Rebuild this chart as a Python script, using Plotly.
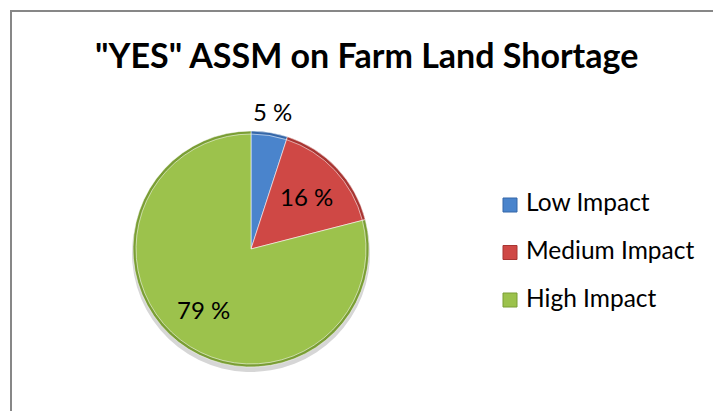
import math
import plotly.graph_objects as go

# Survey answers: impact of ASSM on farm land shortage (share of "YES" replies, %)
categories = ["Low Impact", "Medium Impact", "High Impact"]
shares = [5, 16, 79]
label_inside = [False, True, True]

face_colors = ["#4a84cc", "#cf4845", "#9cc24c"]
edge_colors = ["#3567a8", "#a83532", "#7a9e34"]

W, H = 713, 411
FONT = "Lato, Calibri, Arial, sans-serif"

# pie geometry in pixels (centre and radius)
cx, cy, r_out = 251, 249, 118
r_in = r_out - 3


def dom(cx_px, cy_px, r_px):
    return dict(
        x=[(cx_px - r_px) / W, (cx_px + r_px) / W],
        y=[(H - cy_px - r_px) / H, (H - cy_px + r_px) / H],
    )


common = dict(
    values=shares,
    labels=categories,
    sort=False,
    direction="clockwise",
    rotation=0,
    showlegend=False,
    hoverinfo="skip",
    textinfo="none",
)

fig = go.Figure()

# soft drop shadow below the pie
fig.add_trace(go.Pie(
    **common,
    domain=dom(cx, cy + 4, r_out + 1),
    marker=dict(colors=["rgba(0,0,0,0.16)"] * len(shares), line=dict(width=0)),
))

# darker rim for the bevelled look
fig.add_trace(go.Pie(
    **common,
    domain=dom(cx, cy, r_out),
    marker=dict(colors=edge_colors, line=dict(color="rgba(255,255,255,0.5)", width=1)),
))

# main face
fig.add_trace(go.Pie(
    **common,
    domain=dom(cx, cy, r_in),
    marker=dict(colors=face_colors, line=dict(color="rgba(255,255,255,0.55)", width=1)),
))

shapes = [dict(
    type="rect", xref="paper", yref="paper",
    x0=11 / W, x1=1.02, y0=-0.02, y1=(H - 11) / H,
    line=dict(color="#878787", width=2), fillcolor="rgba(0,0,0,0)", layer="below",
)]
annotations = [dict(
    text='<b>"YES" ASSM on Farm Land Shortage</b>',
    x=366 / W, y=(H - 55) / H, xref="paper", yref="paper",
    xanchor="center", yanchor="middle", showarrow=False,
    font=dict(family=FONT, size=34, color="#000000"),
)]

# percentage labels placed at each slice's mid-angle
total = sum(shares)
cum = 0
for v, inside in zip(shares, label_inside):
    ang = math.radians((cum + v / 2) / total * 360)
    cum += v
    dist = 0.65 * r_out if inside else r_out + 21
    lx = cx + dist * math.sin(ang)
    ly = cy - dist * math.cos(ang)
    annotations.append(dict(
        text=f"{v} %", x=lx / W, y=(H - ly) / H, xref="paper", yref="paper",
        xanchor="center", yanchor="middle", showarrow=False,
        font=dict(family=FONT, size=24, color="#000000"),
    ))

# legend drawn as swatches plus labels
row_y = [205, 252.5, 300]
for name, face, edge, yy in zip(categories, face_colors, edge_colors, row_y):
    shapes.append(dict(
        type="rect", xref="paper", yref="paper",
        x0=503 / W, x1=517 / W, y0=(H - yy - 7) / H, y1=(H - yy + 7) / H,
        fillcolor=face, line=dict(color=edge, width=1),
    ))
    annotations.append(dict(
        text=name, x=524 / W, y=(H - yy + 3) / H, xref="paper", yref="paper",
        xanchor="left", yanchor="middle", showarrow=False,
        font=dict(family=FONT, size=24.5, color="#000000"),
    ))

fig.update_layout(
    width=W, height=H,
    margin=dict(l=0, r=0, t=0, b=0),
    paper_bgcolor="#ffffff",
    plot_bgcolor="#ffffff",
    shapes=shapes,
    annotations=annotations,
)

fig.write_html("out.html")
